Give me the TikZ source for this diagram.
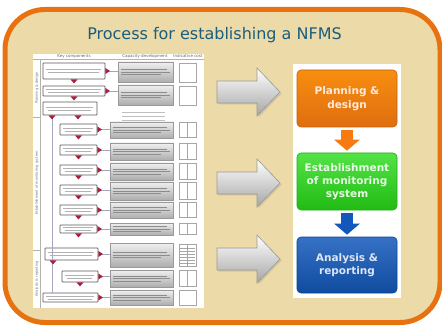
\documentclass[tikz,border=0pt]{standalone}
\usepackage{fontspec}
\setmainfont{DejaVu Sans}
\usetikzlibrary{arrows.meta,shadows}
\definecolor{frameorange}{RGB}{232,114,16}
\definecolor{parchment}{RGB}{236,218,168}
\definecolor{titleblue}{RGB}{26,94,124}
\definecolor{tipred}{RGB}{170,30,60}
\definecolor{planorange}{RGB}{247,122,18}
\definecolor{estgreen}{RGB}{40,220,24}
\definecolor{analblue}{RGB}{18,88,186}

\begin{document}
\begin{tikzpicture}[x=1pt,y=-1pt,
    keybox/.style={draw=black!65,line width=0.8pt,fill=white,inner sep=0pt,rounded corners=0.6pt},
    capbox/.style={draw=black!40,line width=0.5pt,top color=black!6,bottom color=black!32,inner sep=0pt},
    costbox/.style={draw=black!35,line width=0.4pt,fill=white,inner sep=0pt},
    link/.style={draw=blue!30!black!35,line width=0.4pt},
    redtip/.style={fill=tipred},
    fauxtext/.style={draw=black!30,line width=0.7pt},
    hdr/.style={inner sep=0pt,text=black!60,font=\fontsize{4}{4}\selectfont},
    sidelabel/.style={inner sep=0pt,rotate=90,text=black!55,font=\fontsize{3.5}{3.5}\selectfont},
    stepnode/.style={minimum width=100pt,minimum height=57pt,rounded corners=4pt,line width=0.6pt,align=center,font=\bfseries\fontsize{10.5}{13.3}\selectfont},
    grayarrow/.style={draw=black!40,line width=0.6pt,top color=white,bottom color=black!35,drop shadow={opacity=0.25,shadow xshift=1.5pt,shadow yshift=-1.5pt}},
    flowarrow/.style={line width=12pt,-{Triangle[width=25pt,length=11pt]},shorten <=3pt,shorten >=2pt}]
    \fill [white] (0,0) rectangle (442,326);
    \useasboundingbox (0,0) rectangle (442,326);
    % frame and title
    \draw [draw=frameorange,line width=5pt,fill=parchment,rounded corners=40pt] (5,9.5) rectangle (440,322.5);
    \node [text=titleblue,font=\fontsize{16}{16}\selectfont] (title) at (214.5,35) {Process for establishing a NFMS};
    % left chart
    \node [fill=white,minimum width=171pt,minimum height=254pt,inner sep=0pt] (chart) at (118.5,181) {};
    \draw [black!30,line width=0.4pt] (33,59) -- (204,59);
    \draw [black!30,line width=0.4pt] (40.5,59) -- (40.5,308);
    \draw [black!30,line width=0.4pt] (33,117) -- (40.5,117);
    \draw [black!30,line width=0.4pt] (33,250) -- (40.5,250);
    \node [hdr] (hkey) at (74,56.5) {Key components};
    \node [hdr] (hcap) at (145,56.5) {Capacity development};
    \node [hdr] (hcost) at (188,56.5) {Indicative cost};
    \node [sidelabel] (lplan) at (36.8,88) {Planning \& design};
    \node [sidelabel] (lest) at (36.8,183) {Establishment of monitoring system};
    \node [sidelabel] (lanal) at (36.8,279) {Analysis \& reporting};
    % key components
    \node [keybox,minimum width=62pt,minimum height=16pt] (k1) at (74,71) {};
    \node [keybox,minimum width=62pt,minimum height=10pt] (k2) at (74,91) {};
    \node [keybox,minimum width=54pt,minimum height=13pt] (k3) at (70,108.5) {};
    \node [keybox,minimum width=37pt,minimum height=11pt] (k4) at (78.5,129.5) {};
    \node [keybox,minimum width=37pt,minimum height=10pt] (k5) at (78.5,150) {};
    \node [keybox,minimum width=37pt,minimum height=10pt] (k6) at (78.5,170) {};
    \node [keybox,minimum width=37pt,minimum height=10pt] (k7) at (78.5,190) {};
    \node [keybox,minimum width=37pt,minimum height=10pt] (k8) at (78.5,210) {};
    \node [keybox,minimum width=37pt,minimum height=8pt] (k9) at (78.5,229) {};
    \node [keybox,minimum width=53pt,minimum height=12pt] (k10) at (71.5,254) {};
    \node [keybox,minimum width=36pt,minimum height=11pt] (k11) at (80,276.5) {};
    \node [keybox,minimum width=55pt,minimum height=9pt] (k12) at (70.5,297.5) {};
    % capacity development
    \node [capbox,minimum width=55pt,minimum height=20pt] (c1) at (145.5,72) {};
    \node [capbox,minimum width=55pt,minimum height=20pt] (c2) at (145.5,95) {};
    \node [capbox,minimum width=63pt,minimum height=16pt] (c4) at (141.5,130) {};
    \node [capbox,minimum width=63pt,minimum height=17pt] (c5) at (141.5,151.5) {};
    \node [capbox,minimum width=63pt,minimum height=17pt] (c6) at (141.5,171.5) {};
    \node [capbox,minimum width=63pt,minimum height=18pt] (c7) at (141.5,191) {};
    \node [capbox,minimum width=63pt,minimum height=16pt] (c8) at (141.5,210) {};
    \node [capbox,minimum width=63pt,minimum height=12pt] (c9) at (141.5,229) {};
    \node [capbox,minimum width=63pt,minimum height=24pt] (c10) at (141.5,255) {};
    \node [capbox,minimum width=63pt,minimum height=17pt] (c11) at (141.5,278.5) {};
    \node [capbox,minimum width=63pt,minimum height=15pt] (c12) at (141.5,297.5) {};
    % indicative cost
    \node [costbox,minimum width=17pt,minimum height=19pt] (s1) at (187.5,72.5) {};
    \node [costbox,minimum width=17pt,minimum height=19pt] (s2) at (187.5,95.5) {};
    \node [costbox,minimum width=17pt,minimum height=15pt] (s4) at (187.5,130) {};
    \node [costbox,minimum width=17pt,minimum height=16pt] (s5) at (187.5,151.5) {};
    \node [costbox,minimum width=17pt,minimum height=16pt] (s6) at (187.5,171.5) {};
    \node [costbox,minimum width=17pt,minimum height=17pt] (s7) at (187.5,191) {};
    \node [costbox,minimum width=17pt,minimum height=15pt] (s8) at (187.5,210) {};
    \node [costbox,minimum width=17pt,minimum height=11pt] (s9) at (187.5,229) {};
    \node [costbox,minimum width=17pt,minimum height=22pt] (s10) at (187.5,255) {};
    \node [costbox,minimum width=17pt,minimum height=16pt] (s11) at (187.5,278.5) {};
    \node [costbox,minimum width=17pt,minimum height=15pt] (s12) at (187.5,297.5) {};
    \foreach \r in {4,5,6,7,8,9,10,11}
        \draw [costbox] (s\r.north) -- (s\r.south);
    \foreach \yy in {248,251,...,263}
        \draw [black!35,line width=0.3pt] (180,\yy) -- (195,\yy);
    % texture of the small texts
    \foreach \n in {k1,k2,k3,k4,k5,k6,k7,k8,k9,k10,k11,k12} {
        \draw [fauxtext] ([xshift=3pt,yshift=1.4pt]\n.west) -- ([xshift=-4pt,yshift=1.4pt]\n.east);
        \draw [fauxtext] ([xshift=5pt,yshift=-1.4pt]\n.west) -- ([xshift=-6pt,yshift=-1.4pt]\n.east);
    }
    \foreach \n in {c1,c2,c4,c5,c6,c7,c8,c9,c10,c11,c12} {
        \draw [black!45,line width=0.6pt] ([xshift=3pt,yshift=2.5pt]\n.west) -- ([xshift=-6pt,yshift=2.5pt]\n.east);
        \draw [black!45,line width=0.6pt] ([xshift=3pt]\n.west) -- ([xshift=-3pt]\n.east);
        \draw [black!45,line width=0.6pt] ([xshift=3pt,yshift=-2.5pt]\n.west) -- ([xshift=-12pt,yshift=-2.5pt]\n.east);
    }
    \draw [fauxtext,black!25] (122,112) -- (165,112);
    \draw [fauxtext,black!25] (122,116) -- (165,116);
    \draw [fauxtext,black!25] (122,120) -- (165,120);
    % flow of the chart
    \coordinate (looptop) at (52,115);
    \draw [link] (looptop) -- (k12.north -| looptop);
    \foreach \r in {1,2,4,5,6,7,8,9,10,11,12} {
        \draw [link] (k\r.east) -- (k\r.east -| c\r.west);
        \fill [redtip] (k\r.east) ++(0,-3) -- ++(4.5,3) -- ++(-4.5,3) -- cycle;
    }
    \foreach \r in {1,2,4,5,6,7,8,9,11}
        \fill [redtip] (k\r.south) ++(-3.5,0) -- ++(7,0) -- ++(-3.5,4) -- cycle;
    \fill [redtip] (k3.south) ++(-21.5,0) -- ++(7,0) -- ++(-3.5,4) -- cycle;
    \fill [redtip] (k3.south) ++(4.5,0) -- ++(7,0) -- ++(-3.5,4) -- cycle;
    \fill [redtip] (k10.south) ++(-22,0) -- ++(7,0) -- ++(-3.5,4) -- cycle;
    % gray arrows
    \draw [grayarrow] (217,81) -- (257,81) -- (257,68) -- (280,92) -- (257,116) -- (257,103) -- (217,103) -- cycle;
    \draw [grayarrow] (217,172) -- (257,172) -- (257,159) -- (280,183) -- (257,207) -- (257,194) -- (217,194) -- cycle;
    \draw [grayarrow] (217,248) -- (257,248) -- (257,235) -- (280,259) -- (257,283) -- (257,270) -- (217,270) -- cycle;
    % right panel
    \node [fill=white,minimum width=108pt,minimum height=234pt,inner sep=0pt] (panel) at (347,181) {};
    \node [stepnode,draw=planorange!80!black,top color=planorange!85!yellow,bottom color=planorange!90!black,text=white!85!planorange] (plan) at (347,98.5) {Planning \&\\design};
    \node [stepnode,draw=estgreen!80!black,top color=estgreen!80!white,bottom color=estgreen!85!black,text=white!88!estgreen] (estab) at (347,181.5) {Establishment\\of monitoring\\system};
    \node [stepnode,draw=analblue!80!black,top color=analblue!85!white,bottom color=analblue!85!black,text=white!85!analblue,minimum height=56pt] (anal) at (347,265) {Analysis \&\\reporting};
    \draw [flowarrow,planorange] (plan) -- (estab);
    \draw [flowarrow,analblue] (estab) -- (anal);
\end{tikzpicture}
\end{document}
